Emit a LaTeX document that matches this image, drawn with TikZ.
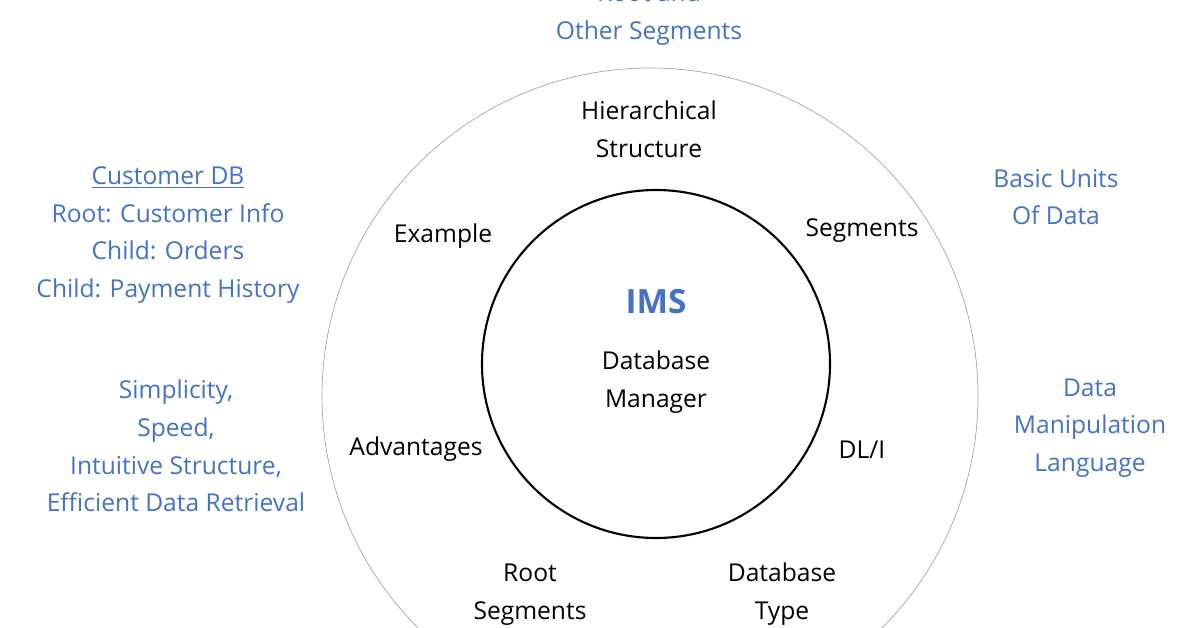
\documentclass[tikz,border=0pt]{standalone}
\usepackage{fontspec}
\setmainfont{Open Sans}
\usetikzlibrary{positioning}
\definecolor{imsblue}{RGB}{68,114,196}
\tikzset{
  lbl/.style={align=center, font=\fontsize{14}{21.5}\selectfont, inner sep=0pt},
  note/.style={lbl, text=imsblue}
}
\begin{document}
\begin{tikzpicture}[x=0.02cm, y=-0.02cm]
        \useasboundingbox (0,0) rectangle (1196,628);
        \clip (0,0) rectangle (1196,628);
        % rings
        \draw[gray!70, thin] (650,396) circle (328);
        \draw[black, line width=1.2pt] (656,364) circle (174);
        
        % centre
        \node[font=\fontsize{19}{22}\selectfont\bfseries, text=imsblue] (ims) at (656,302) {IMS};
        \node[lbl] (mgr) at (656,382) {Database\\Manager};
        
        % ring labels
        \node[lbl] (hier) at (649,129) {Hierarchical\\Structure};
        \node[lbl] (seg) at (862,231) {Segments};
        \node[lbl] (dli) at (862,450) {DL/I};
        \node[lbl] (dbtype) at (782,594) {Database\\Type};
        \node[lbl] (rootseg) at (530,595) {Root\\Segments};
        \node[lbl] (adv) at (416,449) {Advantages};
        \node[lbl] (ex) at (443,236) {Example};
        
        % outer notes
        \node[note] (nhier) at (649,14) {Root and\\Other Segments};
        \node[note] (nseg) at (1056,197) {Basic Units\\Of Data};
        \node[note] (ndli) at (1090,428) {Data\\Manipulation\\Language};
        \node[note] (ndb) at (962,642) {DEDB};
        \node[note] (nroot) at (332,642) {Access};
        \node[note] (nadv) at (176,446) {Simplicity,\\Speed,\\Intuitive Structure,\\Efficient Data Retrieval};
        \node[note] (nex) at (168,235) {\underline{Customer DB}\\Root: Customer Info\\Child: Orders\\Child: Payment History};
\end{tikzpicture}
\end{document}
